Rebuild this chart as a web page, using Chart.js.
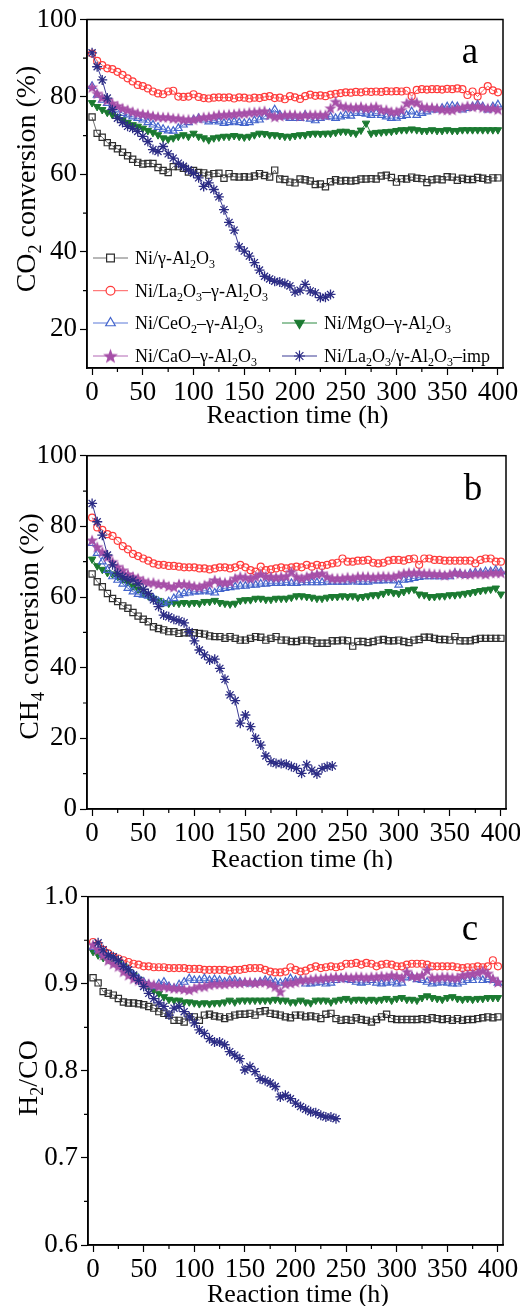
<!DOCTYPE html>
<html>
<head>
<meta charset="utf-8">
<title>Catalyst stability</title>
<script src="https://cdn.jsdelivr.net/npm/chart.js@4.4.1/dist/chart.umd.min.js"></script>
<style>
  html, body { margin: 0; padding: 0; background: #fff; overflow: hidden; }
  #page { position: relative; width: 520px; height: 1306px; }
  canvas { position: absolute; left: 0; }
</style>
</head>
<body>
<div id="page">
  <canvas id="chartA" width="520" height="430" style="top:0"></canvas>
  <canvas id="chartB" width="520" height="440" style="top:430px"></canvas>
  <canvas id="chartC" width="520" height="436" style="top:870px"></canvas>
</div>
<script>
const SERIF = "'Liberation Serif', 'Times New Roman', serif";

// sampling times, h
const hours = [0,5,10,15,20,25,30,35,40,45,50,55,60,65,70,75,80,85,90,95,
  100,105,110,115,120,125,130,135,140,145,150,155,160,165,170,175,180,185,190,195,
  200,205,210,215,220,225,230,235,240,245,250,255,260,265,270,275,280,285,290,295,
  300,305,310,315,320,325,330,335,340,345,350,355,360,365,370,375,380,385,390,395,400];
const impHoursAB = hours.slice(0, 48); // 0-235 h
const impHoursC = hours.slice(1, 49);  // 5-240 h

// "_" = next char is a subscript
const seriesNames = ['Ni/γ-Al_2O_3', 'Ni/La_2O_3–γ-Al_2O_3', 'Ni/CeO_2–γ-Al_2O_3',
  'Ni/MgO–γ-Al_2O_3', 'Ni/CaO–γ-Al_2O_3', 'Ni/La_2O_3/γ-Al_2O_3–imp'];

const xMajor = [0,50,100,150,200,250,300,350,400];
const xMinor = [25,75,125,175,225,275,325,375];
const yMajorA = [20,40,60,80,100];
const yMinorA = [30,50,70,90];
const yMajorB = [0,20,40,60,80,100];
const yMinorB = [10,30,50,70,90];
const yMajorC = [0.6,0.7,0.8,0.9,1.0];
const yMinorC = [0.65,0.75,0.85,0.95];

// (a) CO2 conversion, %
const co2Al = [74.8,70.6,69.6,68.2,67.4,66.6,65.7,64.8,63.9,63.1,
  62.7,62.8,62.8,61.8,61.0,60.5,62.0,62.0,61.6,60.6,
  61.0,60.5,60.4,59.8,60.2,60.3,59.0,60.2,59.4,59.3,
  59.4,59.3,59.6,60.2,59.7,59.3,61.1,58.8,58.7,58.0,
  57.8,58.8,58.6,58.3,57.4,57.5,56.8,58.1,58.6,58.3,
  58.4,58.3,58.4,58.8,58.8,58.9,58.8,59.6,59.8,59.2,
  58.0,58.9,58.8,59.3,59.0,58.9,57.9,58.6,58.8,58.6,
  59.4,59.3,58.5,59.0,58.7,58.7,59.2,59.0,58.6,59.1,
  59.1];
const co2La = [91.2,89.3,88.2,87.4,87.2,86.5,85.7,84.8,84.0,83.1,
  82.8,82.2,81.4,80.9,80.7,81.4,81.6,80.1,80.0,80.1,
  80.7,80.0,79.7,79.6,79.8,79.9,79.8,79.9,79.6,79.9,
  79.8,79.6,79.8,79.7,80.0,80.2,79.7,79.8,79.4,80.2,
  79.9,79.5,80.2,80.6,80.3,80.4,80.2,80.6,80.8,81.0,
  81.2,81.1,81.3,81.2,81.4,81.3,81.4,81.3,81.5,81.4,
  81.5,81.4,81.6,80.2,81.8,82.0,81.9,82.0,82.0,81.9,
  82.1,82.0,82.2,82.0,80.5,81.4,80.1,81.6,82.8,81.7,
  81.2];
const co2Ce = [82.8,80.5,79.2,78.4,77.5,76.7,75.8,75.4,74.9,74.5,
  74.1,73.4,72.8,72.2,71.7,71.3,71.2,71.9,72.8,73.4,
  74.1,74.5,74.1,73.6,74.0,73.6,73.2,73.4,73.6,73.4,
  73.2,73.4,73.9,74.1,74.9,75.8,76.7,75.4,74.9,74.5,
  74.5,74.5,75.3,74.3,73.9,74.5,74.9,74.9,74.5,74.9,
  75.3,75.1,75.8,75.8,75.6,75.3,75.8,75.3,74.9,74.5,
  74.6,75.0,75.3,76.2,75.3,75.8,76.2,76.7,76.7,77.1,
  77.5,77.7,77.5,76.7,77.1,77.5,78.0,77.5,76.7,77.5,
  78.0];
const co2Mg = [78.5,77.5,76.7,76.0,75.4,74.9,74.1,73.4,72.8,72.4,
  71.9,71.3,70.8,70.2,69.4,69.1,69.4,69.8,70.2,69.8,
  70.6,69.8,69.4,68.9,69.4,69.6,69.8,69.8,70.0,69.8,
  69.6,69.8,70.2,70.6,70.5,70.2,70.2,70.0,69.8,69.8,
  70.0,70.2,70.2,70.5,70.6,70.5,70.6,70.6,70.8,71.1,
  71.1,70.8,70.6,71.4,73.2,70.6,70.8,70.9,71.0,71.1,
  71.3,71.5,71.5,71.7,71.5,71.3,71.3,71.5,71.3,71.3,
  71.5,71.3,71.3,71.5,71.5,71.5,71.5,71.5,71.5,71.5,
  71.5];
const co2Ca = [82.5,80.9,79.9,79.2,78.4,77.7,77.1,76.7,76.2,75.8,
  75.6,75.4,75.1,74.9,74.8,74.8,74.5,74.5,74.2,74.2,
  74.2,74.5,74.8,74.9,75.1,75.4,75.4,75.5,75.6,75.8,
  75.8,76.0,76.1,76.2,76.4,75.4,74.9,75.1,75.4,75.4,
  75.4,75.1,75.4,75.4,75.4,75.4,75.4,77.1,78.8,77.7,
  77.5,77.3,77.3,77.5,77.1,77.3,77.5,76.7,76.7,76.2,
  76.2,76.7,78.4,78.8,78.6,77.5,77.3,77.3,77.1,76.8,
  76.7,76.7,77.1,77.3,77.7,77.5,77.7,77.3,77.1,77.1,
  76.8];
const co2Imp = [91.4,87.8,84.4,79.7,76.7,74.5,73.4,72.4,71.9,71.1,
  69.8,68.5,66.4,65.9,67.2,65.3,64.2,62.9,62.1,61.2,
  60.3,59.1,56.9,57.8,56.1,54.2,50.9,47.6,45.6,41.3,
  40.2,38.9,37.2,35.3,33.7,33.0,32.4,32.2,31.8,31.2,
  29.6,30.1,31.6,29.9,29.4,28.2,28.3,29.0];

// (b) CH4 conversion, %
const ch4Al = [66.5,64.3,62.9,61.0,59.6,58.7,57.5,56.8,55.6,54.6,
  53.7,53.0,51.6,51.1,50.7,50.2,50.2,49.7,49.9,49.9,
  49.9,49.7,49.5,49.0,48.8,48.8,48.3,48.8,48.3,47.8,
  47.8,48.3,48.8,48.6,47.8,48.3,48.8,47.8,47.8,47.4,
  47.4,47.8,47.8,47.6,46.9,46.9,46.9,47.6,47.6,47.8,
  47.6,46.1,47.4,47.4,47.1,47.4,47.8,48.0,47.6,47.6,
  47.8,47.4,47.1,47.8,48.0,48.6,48.6,48.3,48.0,48.0,
  47.8,48.8,47.6,47.6,47.6,48.0,48.3,48.3,48.3,48.3,
  48.3];
const ch4La = [82.5,79.7,79.0,77.8,77.3,75.9,74.4,73.5,72.2,71.6,
  70.9,70.3,69.5,69.1,69.1,68.8,68.8,68.6,68.4,68.4,
  68.4,68.1,68.1,67.8,68.1,68.4,68.4,68.1,68.4,69.1,
  68.4,67.6,67.2,68.6,67.6,67.8,68.1,68.4,68.1,68.4,
  68.6,68.4,69.1,68.6,69.1,68.8,69.1,69.5,69.7,70.9,
  70.0,70.0,70.3,70.3,70.5,69.7,69.5,69.7,70.3,70.5,
  70.5,70.3,70.7,70.9,69.1,70.9,70.9,70.5,70.5,70.3,
  70.3,70.3,70.3,70.3,70.3,69.5,70.5,70.9,70.9,70.0,
  70.0];
const ch4Ce = [75.2,72.4,70.0,67.6,65.8,64.8,63.7,62.5,61.5,60.8,
  60.6,60.3,59.6,58.7,58.2,58.7,59.6,60.6,61.0,61.2,
  61.5,61.5,61.8,61.5,61.2,62.2,62.5,62.7,62.9,63.1,
  63.1,63.4,63.4,63.7,63.7,63.9,63.9,63.9,64.1,63.9,
  63.9,64.1,64.1,64.1,64.1,64.1,64.3,64.3,64.3,64.3,
  64.3,64.6,64.3,64.3,64.3,64.6,64.6,64.6,64.8,64.6,
  63.4,64.8,65.0,65.3,65.6,65.8,65.8,65.8,65.8,65.8,
  65.8,66.7,66.5,66.2,66.7,66.9,66.9,67.2,67.2,67.6,
  67.2];
const ch4Mg = [70.7,68.8,67.8,66.9,66.5,65.8,65.0,64.3,63.1,62.2,
  61.0,60.3,59.6,59.0,58.4,58.2,58.4,58.2,58.4,58.2,
  58.4,58.2,58.7,58.7,59.0,58.4,58.2,58.0,58.2,59.0,
  59.2,59.2,59.6,59.6,59.3,59.3,59.6,59.6,59.6,59.9,
  60.3,60.3,60.1,59.9,59.6,59.6,59.9,60.1,60.1,60.3,
  60.1,60.3,59.9,60.1,60.3,60.6,60.6,61.0,61.5,61.2,
  61.0,61.5,62.0,62.2,60.8,60.6,60.1,60.1,60.3,60.3,
  60.6,60.6,60.8,61.0,61.2,61.5,61.8,62.0,62.2,62.5,
  60.8];
const ch4Ca = [76.1,74.2,72.8,71.4,70.0,68.6,67.6,66.5,65.8,65.3,
  64.6,64.1,64.1,63.7,63.7,63.1,62.9,63.7,63.7,63.4,
  63.1,62.9,63.4,63.9,64.8,64.3,64.1,64.3,65.3,65.8,
  65.6,65.3,65.8,66.5,65.9,65.8,65.6,65.8,65.9,67.2,
  65.8,65.3,65.8,66.2,66.5,66.7,65.8,65.3,65.3,65.3,
  65.6,65.3,65.8,65.8,65.8,65.6,65.8,65.9,65.8,65.8,
  66.2,66.7,66.9,66.9,66.9,66.7,66.7,66.5,66.5,66.2,
  66.5,66.9,66.7,66.5,66.5,66.7,66.7,66.5,66.9,66.9,
  66.9];
const ch4Imp = [86.5,81.3,77.5,71.9,69.1,66.7,65.8,65.0,64.8,63.7,
  62.2,61.0,59.2,57.3,54.9,54.4,53.7,53.3,52.7,50.2,
  47.6,45.0,43.6,42.2,42.4,39.8,36.7,32.3,30.7,24.3,
  26.6,23.3,20.0,18.1,15.0,13.4,12.9,12.9,12.7,12.0,
  11.5,10.1,12.5,11.0,9.9,11.5,12.0,12.2];

// (c) H2/CO ratio
const ratioAl = [0.907,0.901,0.891,0.889,0.887,0.883,0.879,0.878,0.878,0.877,
  0.876,0.874,0.872,0.868,0.866,0.864,0.858,0.858,0.856,0.862,
  0.862,0.858,0.864,0.865,0.863,0.862,0.860,0.862,0.864,0.865,
  0.865,0.866,0.864,0.868,0.869,0.866,0.865,0.864,0.862,0.861,
  0.864,0.864,0.862,0.863,0.862,0.860,0.865,0.866,0.860,0.858,
  0.859,0.858,0.861,0.859,0.858,0.856,0.859,0.862,0.865,0.860,
  0.859,0.859,0.859,0.859,0.859,0.860,0.859,0.861,0.860,0.859,
  0.860,0.858,0.860,0.858,0.859,0.859,0.860,0.861,0.862,0.861,
  0.862];
const ratioLa = [0.948,0.945,0.939,0.935,0.931,0.929,0.927,0.925,0.923,0.922,
  0.920,0.920,0.919,0.919,0.919,0.918,0.918,0.918,0.918,0.917,
  0.917,0.917,0.916,0.916,0.916,0.916,0.916,0.915,0.916,0.916,
  0.917,0.918,0.918,0.918,0.916,0.914,0.913,0.913,0.914,0.919,
  0.916,0.914,0.915,0.918,0.920,0.918,0.919,0.920,0.919,0.920,
  0.923,0.923,0.924,0.922,0.924,0.923,0.920,0.922,0.923,0.922,
  0.920,0.920,0.922,0.923,0.923,0.923,0.922,0.920,0.920,0.920,
  0.920,0.920,0.919,0.918,0.919,0.919,0.920,0.919,0.920,0.927,
  0.920];
const ratioCe = [0.942,0.939,0.934,0.931,0.927,0.923,0.920,0.916,0.910,0.906,
  0.902,0.899,0.897,0.900,0.902,0.897,0.895,0.899,0.902,0.906,
  0.904,0.904,0.906,0.904,0.905,0.904,0.902,0.904,0.904,0.902,
  0.901,0.900,0.901,0.902,0.904,0.904,0.902,0.901,0.902,0.906,
  0.904,0.904,0.900,0.900,0.901,0.902,0.900,0.901,0.904,0.906,
  0.905,0.904,0.902,0.901,0.902,0.904,0.901,0.900,0.901,0.902,
  0.900,0.901,0.907,0.908,0.905,0.904,0.902,0.900,0.901,0.902,
  0.901,0.900,0.900,0.902,0.904,0.904,0.908,0.904,0.905,0.904,
  0.901];
const ratioMg = [0.937,0.933,0.930,0.928,0.925,0.923,0.920,0.914,0.910,0.905,
  0.900,0.897,0.892,0.889,0.885,0.882,0.881,0.881,0.879,0.879,
  0.878,0.877,0.878,0.877,0.878,0.878,0.879,0.881,0.879,0.881,
  0.881,0.881,0.881,0.881,0.881,0.881,0.882,0.881,0.881,0.879,
  0.879,0.881,0.879,0.878,0.881,0.881,0.881,0.879,0.881,0.882,
  0.883,0.881,0.882,0.882,0.881,0.882,0.881,0.882,0.883,0.881,
  0.883,0.884,0.882,0.882,0.881,0.884,0.886,0.884,0.883,0.882,
  0.884,0.885,0.883,0.882,0.883,0.882,0.883,0.883,0.884,0.884,
  0.884];
const ratioCa = [0.945,0.939,0.933,0.927,0.923,0.920,0.914,0.910,0.906,0.904,
  0.901,0.900,0.899,0.897,0.897,0.896,0.895,0.895,0.894,0.893,
  0.895,0.897,0.897,0.899,0.900,0.900,0.900,0.901,0.901,0.901,
  0.902,0.902,0.901,0.902,0.902,0.900,0.897,0.891,0.900,0.901,
  0.902,0.904,0.905,0.905,0.906,0.906,0.907,0.907,0.908,0.907,
  0.908,0.907,0.908,0.908,0.907,0.908,0.908,0.909,0.908,0.910,
  0.909,0.907,0.914,0.909,0.908,0.910,0.916,0.907,0.907,0.908,
  0.908,0.907,0.907,0.910,0.911,0.912,0.913,0.915,0.912,0.906,
  0.902];
const ratioImp = [0.947,0.939,0.933,0.931,0.927,0.920,0.916,0.910,0.904,0.897,
  0.889,0.883,0.878,0.874,0.864,0.872,0.874,0.868,0.862,0.855,
  0.847,0.843,0.837,0.833,0.833,0.830,0.822,0.818,0.814,0.801,
  0.805,0.799,0.791,0.789,0.786,0.782,0.770,0.772,0.768,0.763,
  0.759,0.756,0.753,0.752,0.749,0.747,0.747,0.745];

// styling
const colors = ['#2e2e2e', '#ff3b3b', '#4465cc', '#1b7a31', '#a64fa8', '#2c2c85'];
const lineColors = ['#707070', '#ff5c5c', '#5a78d8', '#2b8a41', '#b266b4', '#3b3b95'];
const drawOrder = [5, 4, 2, 3, 1, 0];

function starImage(color, scale) {
  const c = document.createElement('canvas');
  const s = Math.ceil(12 * scale);
  c.width = c.height = s;
  const g = c.getContext('2d');
  g.fillStyle = color;
  g.beginPath();
  for (let i = 0; i < 10; i++) {
    const r = (i % 2 ? 2.4 : 5.8) * scale;
    const ang = -Math.PI / 2 + i * Math.PI / 5;
    g.lineTo(s / 2 + r * Math.cos(ang), s / 2 + 0.5 * scale + r * Math.sin(ang));
  }
  g.closePath();
  g.fill();
  return c;
}
const starImg = starImage(colors[4], 1.1);
const starImgBig = starImage(colors[4], 1.35);

function markerStyle(k) {
  const c = colors[k];
  const open = 'rgba(0,0,0,0)';
  switch (k) {
    case 0: return { pointStyle: 'rect', pointRadius: 4.4, pointBorderColor: c, pointBackgroundColor: open, pointBorderWidth: 1.2 };
    case 1: return { pointStyle: 'circle', pointRadius: 3.5, pointBorderColor: c, pointBackgroundColor: open, pointBorderWidth: 1.2 };
    case 2: return { pointStyle: 'triangle', pointRadius: 4.4, pointBorderColor: c, pointBackgroundColor: open, pointBorderWidth: 1.2 };
    case 3: return { pointStyle: 'triangle', pointRotation: 180, pointRadius: 4.3, pointBorderColor: c, pointBackgroundColor: c, pointBorderWidth: 1 };
    case 4: return { pointStyle: starImg, pointRadius: 5 };
    default: return { pointStyle: 'star', pointRadius: 5, pointBorderColor: c, pointBackgroundColor: c, pointBorderWidth: 1.3 };
  }
}

function makeSets(values, impHours) {
  return values.map((vals, k) => {
    const xs = k === 5 ? impHours : hours;
    return Object.assign({
      label: seriesNames[k],
      data: vals.map((v, i) => ({ x: xs[i], y: v })),
      borderColor: lineColors[k],
      borderWidth: 1,
      order: drawOrder[k],
    }, markerStyle(k));
  });
}

// text with subscripts
function rich(ctx, str, x, y, size, align) {
  const parts = [];
  for (let i = 0; i < str.length; i++) {
    if (str[i] === '_') { parts.push({ t: str[i + 1], sub: true }); i++; }
    else parts.push({ t: str[i], sub: false });
  }
  const subSize = Math.round(size * 0.64);
  let w = 0;
  parts.forEach(p => {
    ctx.font = (p.sub ? subSize : size) + 'px ' + SERIF;
    p.w = ctx.measureText(p.t).width;
    w += p.w;
  });
  let cx = align === 'center' ? x - w / 2 : x;
  ctx.textAlign = 'left';
  ctx.textBaseline = 'alphabetic';
  parts.forEach(p => {
    ctx.font = (p.sub ? subSize : size) + 'px ' + SERIF;
    ctx.fillText(p.t, cx, p.sub ? y + size * 0.22 : y);
    cx += p.w;
  });
}

function drawMark(ctx, k, x, y, r) {
  ctx.save();
  ctx.lineWidth = 1.2;
  ctx.strokeStyle = colors[k];
  ctx.fillStyle = '#fff';
  ctx.beginPath();
  if (k === 0) {
    const s = r * Math.SQRT1_2;
    ctx.rect(x - s, y - s, 2 * s, 2 * s);
    ctx.fill(); ctx.stroke();
  } else if (k === 1) {
    ctx.arc(x, y, r * 0.8, 0, 2 * Math.PI);
    ctx.fill(); ctx.stroke();
  } else if (k === 2 || k === 3) {
    const dir = k === 2 ? -1 : 1;
    ctx.moveTo(x, y + dir * r);
    ctx.lineTo(x + r * 0.866, y - dir * r / 2);
    ctx.lineTo(x - r * 0.866, y - dir * r / 2);
    ctx.closePath();
    if (k === 3) ctx.fillStyle = colors[k];
    ctx.fill(); ctx.stroke();
  } else if (k === 4) {
    ctx.drawImage(starImgBig, x - starImgBig.width / 2, y - starImgBig.height / 2);
  } else {
    for (let i = 0; i < 4; i++) {
      const a = i * Math.PI / 4;
      ctx.moveTo(x - r * Math.cos(a), y - r * Math.sin(a));
      ctx.lineTo(x + r * Math.cos(a), y + r * Math.sin(a));
    }
    ctx.stroke();
  }
  ctx.restore();
}

// legend of panel a: [series, row y, line start x]
const legendRows = [[0, 258, 93], [1, 290.7, 93], [2, 323, 93], [3, 323, 282], [4, 356, 93], [5, 356, 282]];

function drawLegend(ctx) {
  legendRows.forEach(([k, y, x0]) => {
    ctx.strokeStyle = lineColors[k];
    ctx.lineWidth = 1;
    ctx.beginPath();
    ctx.moveTo(x0, y); ctx.lineTo(x0 + 35, y);
    ctx.stroke();
    drawMark(ctx, k, x0 + 17.5, y, 5.5);
    ctx.fillStyle = '#000';
    rich(ctx, seriesNames[k], x0 + 42, y + 6, 18, 'left');
  });
}

function decorations(cfg) {
  return {
    id: 'deco',
    afterDraw(chart) {
      const { ctx, chartArea: a, scales } = chart;
      ctx.save();
      ctx.strokeStyle = '#000';
      ctx.lineWidth = 1.5;
      ctx.strokeRect(a.left, a.top, a.right - a.left, a.bottom - a.top);
      ctx.lineWidth = 1.2;
      ctx.beginPath();
      xMinor.forEach(v => {
        const px = scales.x.getPixelForValue(v);
        ctx.moveTo(px, a.bottom); ctx.lineTo(px, a.bottom + 4);
      });
      cfg.yMinor.forEach(v => {
        const py = scales.y.getPixelForValue(v);
        ctx.moveTo(a.left - 4, py); ctx.lineTo(a.left, py);
      });
      ctx.stroke();

      ctx.fillStyle = '#000';
      rich(ctx, 'Reaction time (h)', cfg.xTitle[0], cfg.xTitle[1], 26, 'center');
      ctx.save();
      ctx.translate(cfg.yTitle[1], cfg.yTitle[2]);
      ctx.rotate(-Math.PI / 2);
      rich(ctx, cfg.yTitle[0], 0, 0, 28, 'center');
      ctx.restore();

      ctx.font = '37px ' + SERIF;
      ctx.textAlign = 'center';
      ctx.textBaseline = 'alphabetic';
      ctx.fillText(cfg.letter[0], cfg.letter[1], cfg.letter[2]);

      if (cfg.legend) drawLegend(ctx);
      ctx.restore();
    }
  };
}

function buildChart(id, cfg) {
  const tickFont = { family: SERIF, size: 27 };
  new Chart(document.getElementById(id), {
    type: 'line',
    data: { datasets: makeSets(cfg.values, cfg.impHours) },
    options: {
      responsive: false,
      animation: false,
      layout: { padding: { left: 0, top: cfg.top, right: cfg.right, bottom: 0 } },
      plugins: { legend: { display: false }, tooltip: { enabled: false } },
      scales: {
        x: {
          type: 'linear', min: -5, max: 405,
          afterBuildTicks: s => { s.ticks = xMajor.map(v => ({ value: v })); },
          afterFit: s => { s.height = cfg.xAxisH; s.paddingLeft = 0; s.paddingRight = 0; },
          grid: { drawOnChartArea: false, color: '#000', tickLength: 7, tickWidth: 1.2 },
          border: { color: '#000', width: 1.5 },
          ticks: { color: '#000', padding: 2, font: tickFont, maxRotation: 0, autoSkip: false },
        },
        y: {
          type: 'linear', min: cfg.yMin, max: cfg.yMax,
          afterBuildTicks: s => { s.ticks = cfg.yMajor.map(v => ({ value: v })); },
          afterFit: s => { s.width = cfg.yAxisW; s.paddingTop = 0; s.paddingBottom = 0; },
          grid: { drawOnChartArea: false, color: '#000', tickLength: 7, tickWidth: 1.2 },
          border: { color: '#000', width: 1.5 },
          ticks: { color: '#000', padding: 3, font: tickFont, autoSkip: false, callback: cfg.fmt },
        },
      },
    },
    plugins: [decorations(cfg)],
  });
}

buildChart('chartA', {
  values: [co2Al, co2La, co2Ce, co2Mg, co2Ca, co2Imp], impHours: impHoursAB,
  yMin: 10, yMax: 100, yMajor: yMajorA, yMinor: yMinorA, fmt: v => String(v),
  top: 19.5, right: 17, xAxisH: 62, yAxisW: 87,
  xTitle: [297.5, 423], yTitle: ['CO_2 conversion (%)', 35, 179], letter: ['a', 470, 63],
  legend: true,
});
buildChart('chartB', {
  values: [ch4Al, ch4La, ch4Ce, ch4Mg, ch4Ca, ch4Imp], impHours: impHoursAB,
  yMin: 0, yMax: 100, yMajor: yMajorB, yMinor: yMinorB, fmt: v => String(v),
  top: 25.7, right: 14, xAxisH: 61, yAxisW: 87,
  xTitle: [302, 436.7], yTitle: ['CH_4 conversion (%)', 38, 196.5], letter: ['b', 473, 70],
  legend: false,
});
buildChart('chartC', {
  values: [ratioAl, ratioLa, ratioCe, ratioMg, ratioCa, ratioImp], impHours: impHoursC,
  yMin: 0.6, yMax: 1.0, yMajor: yMajorC, yMinor: yMinorC, fmt: v => v.toFixed(1),
  top: 26.7, right: 17, xAxisH: 61, yAxisW: 88,
  xTitle: [298, 432], yTitle: ['H_2/CO', 36.5, 208], letter: ['c', 470, 70],
  legend: false,
});
</script>
</body>
</html>
